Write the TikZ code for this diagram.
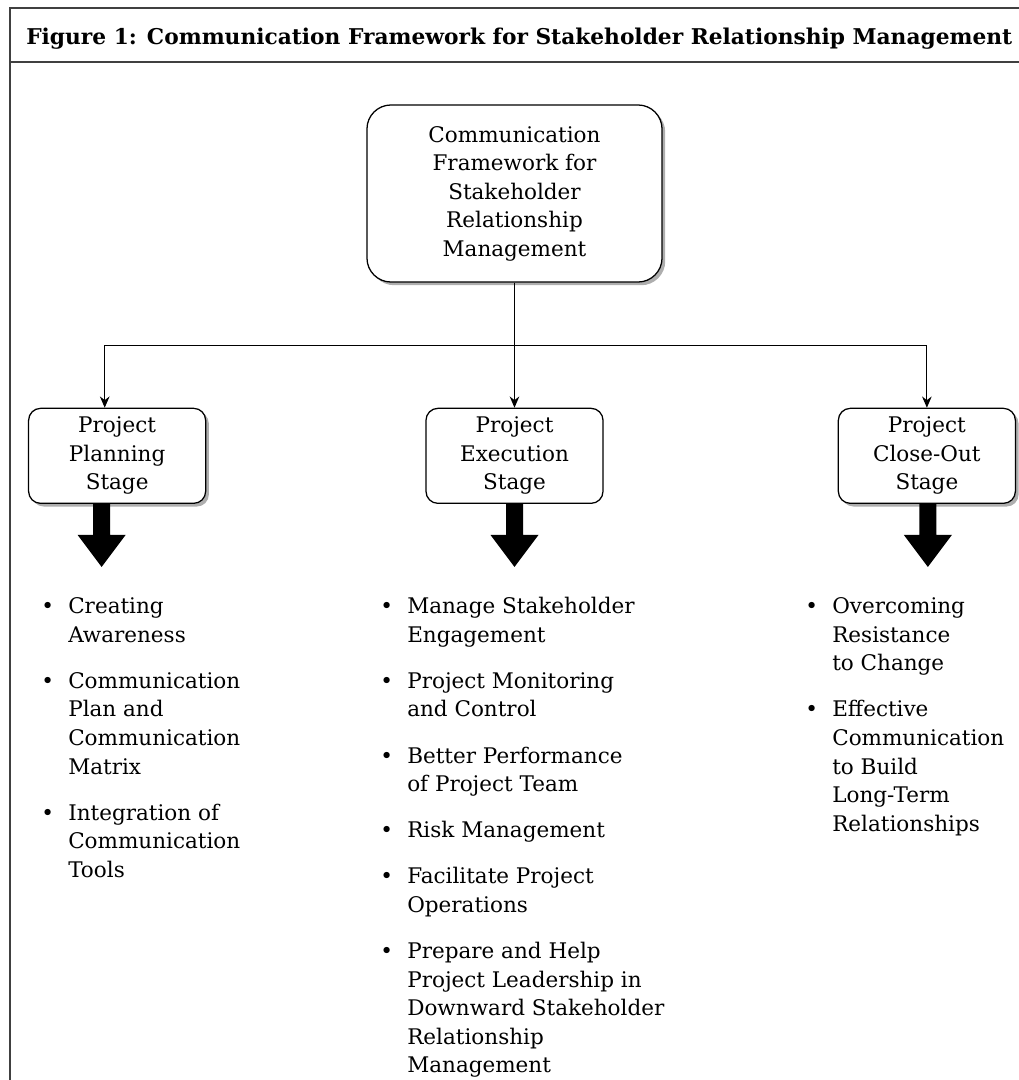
\documentclass[tikz,border=0pt]{standalone}
\usepackage{fontspec}
\setmainfont{DejaVu Serif}
\usetikzlibrary{arrows.meta, positioning, shadows, calc}

\begin{document}
\begin{tikzpicture}[x=0.025cm, y=-0.025cm,
    font=\fontsize{15.3}{20.3}\selectfont,
    stagebox/.style={draw, line width=0.9pt, fill=white, rounded corners=0.3cm,
          minimum width=4.425cm, minimum height=2.375cm, align=center, inner sep=2pt},
    shade/.style={drop shadow={shadow xshift=0.08cm, shadow yshift=-0.08cm,
          fill=black!45, opacity=0.7}},
    link/.style={line width=0.8pt, -{Stealth[length=2.8mm, width=2.4mm]}},
    bullets/.style={anchor=north west, inner sep=0pt, align=left},
    frame/.style={draw=black!75, line width=1.1pt}]
  \useasboundingbox (0,0) rectangle (1019,1080);
  % frame and caption
  \draw[frame] (10,1080) |- (1019,8);
  \draw[frame] (10,62) -- (1019,62);
  \node[anchor=base west, inner sep=0pt, font=\fontsize{15.45}{18}\selectfont\bfseries]
    (caption) at (26,44)
    {Figure 1: Communication Framework for Stakeholder Relationship Management};

  % boxes
  \node[stagebox, shade, rounded corners=0.6cm, minimum width=7.375cm,
        minimum height=4.425cm] (main) at (514.5,193.5)
    {Communication\\Framework for\\Stakeholder\\Relationship\\Management};
  \node[stagebox, below=3.125cm of main] (exec) {Project\\Execution\\Stage};
  \node[stagebox, shade, left=5.475cm of exec] (plan) {Project\\Planning\\Stage};
  \node[stagebox, shade, right=5.85cm of exec] (close) {Project\\Close-Out\\Stage};

  % connectors
  \coordinate (split) at ($(main.south)+(0,63)$);
  \draw[line width=0.8pt] (main.south) -- (split);
  \draw[link] (split) -| ([xshift=-0.31cm]plan.north);
  \draw[link] (split) -- (exec.north);
  \draw[link] (split) -| (close.north);

  % block arrows
  \foreach \b/\dx in {plan/-15.5, exec/0, close/1}
    \fill[shift={(\b.south)}] (\dx-8.5,0) -- (\dx-8.5,31) -- (\dx-24,31)
      -- (\dx,63) -- (\dx+24,31) -- (\dx+8.5,31) -- (\dx+8.5,0) -- cycle;

  % lists
  \node[bullets] (planlist) at (41,593.5) {\begin{tabular}{@{}p{0.675cm}@{}l@{}}
    \textbullet & Creating\\
    & Awareness\\[12.5pt]
    \textbullet & Communication\\
    & Plan and\\
    & Communication\\
    & Matrix\\[12.5pt]
    \textbullet & Integration of\\
    & Communication\\
    & Tools
  \end{tabular}};
  \node[bullets] (execlist) at (380,593.5) {\begin{tabular}{@{}p{0.675cm}@{}l@{}}
    \textbullet & Manage Stakeholder\\
    & Engagement\\[12.5pt]
    \textbullet & Project Monitoring\\
    & and Control\\[12.5pt]
    \textbullet & Better Performance\\
    & of Project Team\\[12.5pt]
    \textbullet & Risk Management\\[12.5pt]
    \textbullet & Facilitate Project\\
    & Operations\\[12.5pt]
    \textbullet & Prepare and Help\\
    & Project Leadership in\\
    & Downward Stakeholder\\
    & Relationship\\
    & Management
  \end{tabular}};
  \node[bullets] (closelist) at (805,593.5) {\begin{tabular}{@{}p{0.675cm}@{}l@{}}
    \textbullet & Overcoming\\
    & Resistance\\
    & to Change\\[12.5pt]
    \textbullet & Effective\\
    & Communication\\
    & to Build\\
    & Long-Term\\
    & Relationships
  \end{tabular}};
\end{tikzpicture}
\end{document}
